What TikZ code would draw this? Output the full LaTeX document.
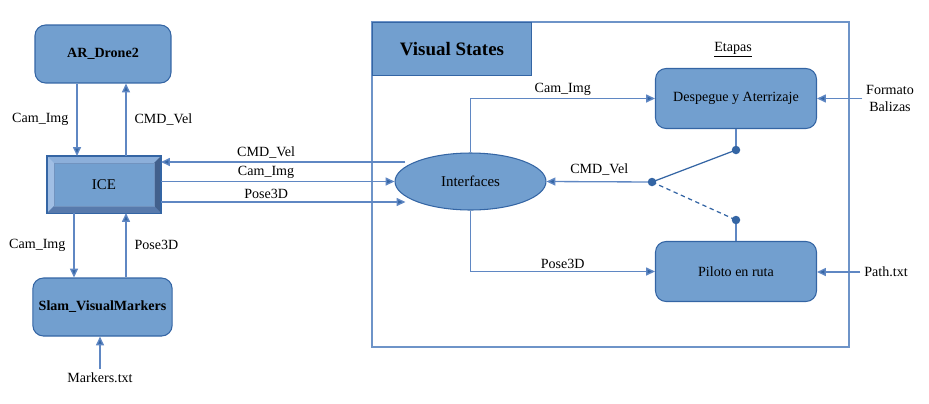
\documentclass[tikz,border=0pt]{standalone}
\usepackage{fontspec}
\setmainfont{Liberation Serif}
\usetikzlibrary{shapes.geometric, arrows.meta, positioning, calc}
\definecolor{boxfill}{RGB}{114,159,207}
\definecolor{boxline}{RGB}{52,101,164}
\definecolor{wireblue}{RGB}{95,135,195}
\definecolor{framecol}{RGB}{110,148,200}
\definecolor{bevlight}{RGB}{160,190,228}
\definecolor{bevtop}{RGB}{140,175,218}
\definecolor{bevdark}{RGB}{66,96,140}
\definecolor{bevbot}{RGB}{88,122,172}
\tikzset{
  modblock/.style={rectangle, draw=boxline, fill=boxfill,
    minimum width=2.72cm, minimum height=1.16cm,
    font=\fontsize{8}{10}\selectfont\bfseries, rounded corners=6pt, line width=0.6pt},
  stageblock/.style={rectangle, draw=boxline, fill=boxfill,
    minimum width=3.22cm, minimum height=1.2cm,
    font=\fontsize{8}{10}\selectfont, rounded corners=6pt, line width=0.6pt},
  iceblock/.style={rectangle, draw=boxline, fill=boxfill,
    minimum width=2.26cm, minimum height=1.12cm,
    font=\fontsize{8.5}{10}\selectfont, line width=0.6pt},
  ifnode/.style={ellipse, draw=boxline, fill=boxfill,
    minimum width=3.02cm, minimum height=1.14cm, inner sep=0pt,
    font=\fontsize{8.5}{10}\selectfont, line width=0.6pt},
  titlebox/.style={rectangle, draw=boxline, fill=boxfill,
    minimum width=3.18cm, minimum height=1.06cm,
    font=\fontsize{10.8}{12}\selectfont\bfseries, line width=0.6pt},
  framebox/.style={draw=framecol, line width=0.9pt},
  lbl/.style={font=\fontsize{8}{10}\selectfont, inner sep=1.5pt, text=black},
  txtin/.style={font=\fontsize{8}{9.5}\selectfont, align=center, inner sep=2pt},
  arrow/.style={-{Triangle[length=5pt, width=4.5pt, fill=boxline]}, color=wireblue, line width=0.75pt},
  wire/.style={color=wireblue, line width=0.75pt},
  swdot/.style={circle, fill=boxline, inner sep=0pt, minimum size=0.17cm}
}
\begin{document}
\begin{tikzpicture}[x=0.02cm, y=-0.02cm]
  \useasboundingbox (0,0) rectangle (929,403);

  % Visual States frame
  \draw[framebox] (372,22) rectangle (849,347);
  \node[titlebox, anchor=north west] (vstitle) at (372,22) {Visual States};
  \node[lbl] (etapas) at (733,50) {\underline{Etapas}};

  % left column
  \node[modblock] (drone) at (103,54) {AR\_Drone2};
  \node[iceblock] (ice) at (104,184.5) {};
  \fill[bevtop] (ice.north west) -- (ice.north east) -- ($(ice.north east)+(-7,7)$) -- ($(ice.north west)+(7,7)$) -- cycle;
  \fill[bevlight] (ice.north west) -- ($(ice.north west)+(7,7)$) -- ($(ice.south west)+(7,-7)$) -- (ice.south west) -- cycle;
  \fill[bevdark] (ice.north east) -- ($(ice.north east)+(-7,7)$) -- ($(ice.south east)+(-7,-7)$) -- (ice.south east) -- cycle;
  \fill[bevbot] (ice.south west) -- ($(ice.south west)+(7,-7)$) -- ($(ice.south east)+(-7,-7)$) -- (ice.south east) -- cycle;
  \draw[boxline, line width=0.6pt] (ice.north west) rectangle (ice.south east);
  \draw[boxline!70, line width=0.4pt] ($(ice.north west)+(7,7)$) rectangle ($(ice.south east)+(-7,-7)$);
  \node[font=\fontsize{8.5}{10}\selectfont] (icetext) at (ice.center) {ICE};
  \node[modblock, minimum width=2.78cm] (slam) at (102.5,307) {Slam\_VisualMarkers};
  \node[txtin] (markers) at (100,378) {Markers.txt};

  % right part
  \node[ifnode] (intf) at (470.5,181.5) {Interfaces};
  \node[stageblock] (desp) at (736,98.5) {Despegue y Aterrizaje};
  \node[stageblock] (pil) at (736,271.5) {Piloto en ruta};
  \node[txtin] (fmt) at (890,98.5) {Formato\\Balizas};
  \node[txtin] (path) at (886,272) {Path.txt};

  \coordinate (sw) at (652,182);
  \coordinate (swa) at (736,150);
  \coordinate (swb) at (736,220);
  \coordinate (ifa) at ($(intf.west)+(11,-19.5)$);
  \coordinate (ifb) at ($(intf.west)+(11,20.5)$);

  % left connectors
  \draw[arrow] ([xshift=-0.52cm]drone.south) -- ([xshift=-0.52cm]drone.south |- ice.north)
    node[lbl, midway, left=3pt] {Cam\_Img};
  \draw[arrow] ([xshift=0.46cm]drone.south |- ice.north) -- ([xshift=0.46cm]drone.south)
    node[lbl, midway, right=3pt] {CMD\_Vel};
  \draw[arrow] ([xshift=-0.6cm]ice.south) -- ([xshift=-0.6cm]ice.south |- slam.north)
    node[lbl, midway, left=3pt] {Cam\_Img};
  \draw[arrow] ([xshift=0.44cm]ice.south |- slam.north) -- ([xshift=0.44cm]ice.south)
    node[lbl, midway, right=3pt] {Pose3D};
  \draw[arrow] (markers.north) -- (markers.north |- slam.south);

  % ICE <-> Interfaces
  \draw[arrow] (ifa) -- (ifa -| ice.east) node[lbl, pos=0.57, above] {CMD\_Vel};
  \draw[arrow] (intf.west -| ice.east) -- (intf.west) node[lbl, pos=0.45, above] {Cam\_Img};
  \draw[arrow] (ifb -| ice.east) -- (ifb) node[lbl, pos=0.43, above] {Pose3D};

  % Interfaces <-> stages
  \draw[arrow] (intf.north) |- (desp.west) node[lbl, pos=0.75, above] {Cam\_Img};
  \draw[arrow] (intf.south) |- (pil.west) node[lbl, pos=0.75, above] {Pose3D};
  \draw[arrow] (sw) -- (intf.east) node[lbl, midway, above=2pt] {CMD\_Vel};
  \draw[wire] (desp.south) -- (swa);
  \draw[wire] (swb) -- (pil.north);
  \draw[wire, boxline, line width=0.7pt] (sw) -- (swa);
  \draw[wire, boxline, line width=0.7pt, dash pattern=on 2.5pt off 2pt] (sw) -- (swb);
  \node[swdot] (dot0) at (sw) {};
  \node[swdot] (dot1) at (swa) {};
  \node[swdot] (dot2) at (swb) {};

  \draw[arrow] (fmt.west) -- (desp.east);
  \draw[arrow] (path.west) -- (path.west -| pil.east);
\end{tikzpicture}
\end{document}
